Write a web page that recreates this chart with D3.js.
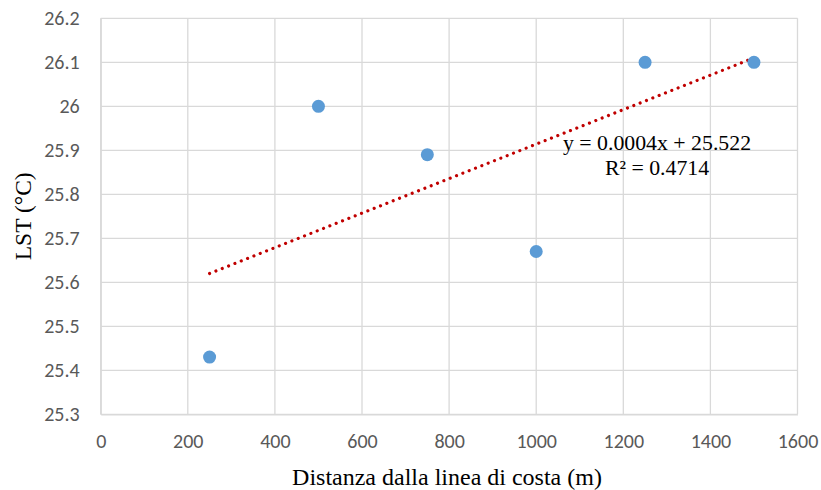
<!DOCTYPE html>
<html><head><meta charset="utf-8">
<script src="https://cdn.jsdelivr.net/npm/d3@7"></script>
<style>body{margin:0;background:#fff}</style>
</head><body>
<svg id="c" width="821" height="490"></svg>
<script>
const xValues = [250, 500, 750, 1000, 1250, 1500];
const yValues = [25.43, 26.0, 25.89, 25.67, 26.1, 26.1];
const xTicks = [0, 200, 400, 600, 800, 1000, 1200, 1400, 1600];
const yTicks = [25.3, 25.4, 25.5, 25.6, 25.7, 25.8, 25.9, 26.0, 26.1, 26.2];
const equationLines = ["y = 0.0004x + 25.522", "R² = 0.4714"];
const xTitle = "Distanza dalla linea di costa (m)";
const yTitle = "LST (°C)";

const svg = d3.select("#c");
const L = 100.7, R = 797.5, T = 18.3, B = 414.3;
const x = d3.scaleLinear().domain([0, 1600]).range([L, R]);
const y = d3.scaleLinear().domain([25.3, 26.2]).range([B, T]);

const grid = "#d9d9d9";
svg.append("g").selectAll("line.h").data(yTicks).join("line")
  .attr("x1", L).attr("x2", R).attr("y1", d => y(d)).attr("y2", d => y(d))
  .attr("stroke", grid).attr("stroke-width", 1.3);
svg.append("g").selectAll("line.v").data(xTicks).join("line")
  .attr("y1", T).attr("y2", B).attr("x1", d => x(d)).attr("x2", d => x(d))
  .attr("stroke", grid).attr("stroke-width", 1.3);

const xAxis = d3.axisBottom(x).tickValues(xTicks).tickSize(0).tickPadding(20).tickFormat(d3.format("d"));
const gx = svg.append("g").attr("transform", `translate(0,${B})`).call(xAxis);
const yAxis = d3.axisLeft(y).tickValues(yTicks).tickSize(0).tickPadding(21).tickFormat(d => d3.format("")(+d.toFixed(1)));
const gy = svg.append("g").attr("transform", `translate(${L},0)`).call(yAxis);
[gx, gy].forEach(g => {
  g.select(".domain").attr("stroke", grid).attr("stroke-width", 1.3);
  g.selectAll("text").attr("font-family", "Carlito, 'Open Sans', 'Liberation Sans', sans-serif")
    .attr("font-size", 20).attr("fill", "#595959");
});

const mx = d3.mean(xValues), my = d3.mean(yValues);
const sxy = d3.sum(xValues.map((v, i) => (v - mx) * (yValues[i] - my)));
const sxx = d3.sum(xValues.map(v => (v - mx) ** 2));
const slope = sxy / sxx, intercept = my - slope * mx;
const x0 = d3.min(xValues), x1 = d3.max(xValues);
svg.append("line")
  .attr("x1", x(x0)).attr("y1", y(intercept + slope * x0))
  .attr("x2", x(x1)).attr("y2", y(intercept + slope * x1))
  .attr("stroke", "#c00000").attr("stroke-width", 3.2)
  .attr("stroke-linecap", "round").attr("stroke-dasharray", "0.01 6.8");

svg.append("g").selectAll("circle").data(xValues).join("circle")
  .attr("cx", d => x(d)).attr("cy", (d, i) => y(yValues[i]))
  .attr("r", 6.5).attr("fill", "#5b9bd5");

svg.append("g").selectAll("text").data(equationLines).join("text")
  .attr("x", 657).attr("y", (d, i) => 149.5 + i * 25.5)
  .attr("text-anchor", "middle")
  .attr("font-family", "'Liberation Serif', 'Times New Roman', serif")
  .attr("font-size", 21.8).attr("fill", "#000").text(d => d);

svg.append("text").attr("x", 447).attr("y", 485).attr("text-anchor", "middle")
  .attr("font-family", "'Liberation Serif', 'Times New Roman', serif").attr("font-size", 24)
  .attr("fill", "#000").text(xTitle);
svg.append("text").attr("transform", `translate(31,${(T + B) / 2}) rotate(-90)`)
  .attr("text-anchor", "middle")
  .attr("font-family", "'Liberation Serif', 'Times New Roman', serif").attr("font-size", 23.5)
  .attr("fill", "#000").text(yTitle);
</script>
</body></html>
